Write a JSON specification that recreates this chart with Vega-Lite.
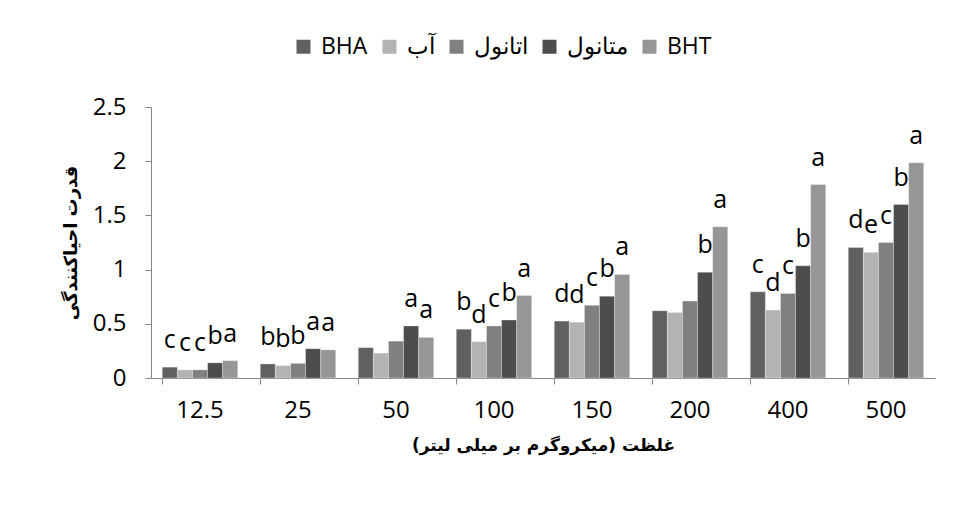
{
  "$schema": "https://vega.github.io/schema/vega-lite/v6.json",
  "width": 784,
  "height": 271,
  "autosize": {"type": "none"},
  "padding": {"left": 151, "top": 107, "right": 23, "bottom": 136},
  "background": "white",
  "config": {
    "view": {"stroke": null},
    "font": "Open Sans",
    "axis": {"grid": false, "domainColor": "#868686", "tickColor": "#868686", "labelColor": "#000000", "titleColor": "#000000"}
  },
  "data": {
    "values": [
      {"conc": "12.5", "series": "BHA", "value": 0.10, "letter": "c"},
      {"conc": "12.5", "series": "آب", "value": 0.075, "letter": "c"},
      {"conc": "12.5", "series": "اتانول", "value": 0.075, "letter": "c"},
      {"conc": "12.5", "series": "متانول", "value": 0.14, "letter": "b"},
      {"conc": "12.5", "series": "BHT", "value": 0.16, "letter": "a"},
      {"conc": "25", "series": "BHA", "value": 0.13, "letter": "b"},
      {"conc": "25", "series": "آب", "value": 0.115, "letter": "b"},
      {"conc": "25", "series": "اتانول", "value": 0.135, "letter": "b"},
      {"conc": "25", "series": "متانول", "value": 0.27, "letter": "a"},
      {"conc": "25", "series": "BHT", "value": 0.26, "letter": "a"},
      {"conc": "50", "series": "BHA", "value": 0.28, "letter": ""},
      {"conc": "50", "series": "آب", "value": 0.23, "letter": ""},
      {"conc": "50", "series": "اتانول", "value": 0.34, "letter": ""},
      {"conc": "50", "series": "متانول", "value": 0.48, "letter": "a"},
      {"conc": "50", "series": "BHT", "value": 0.375, "letter": "a"},
      {"conc": "100", "series": "BHA", "value": 0.45, "letter": "b"},
      {"conc": "100", "series": "آب", "value": 0.335, "letter": "d"},
      {"conc": "100", "series": "اتانول", "value": 0.48, "letter": "c"},
      {"conc": "100", "series": "متانول", "value": 0.535, "letter": "b"},
      {"conc": "100", "series": "BHT", "value": 0.76, "letter": "a"},
      {"conc": "150", "series": "BHA", "value": 0.525, "letter": "d"},
      {"conc": "150", "series": "آب", "value": 0.515, "letter": "d"},
      {"conc": "150", "series": "اتانول", "value": 0.67, "letter": "c"},
      {"conc": "150", "series": "متانول", "value": 0.755, "letter": "b"},
      {"conc": "150", "series": "BHT", "value": 0.955, "letter": "a"},
      {"conc": "200", "series": "BHA", "value": 0.62, "letter": ""},
      {"conc": "200", "series": "آب", "value": 0.605, "letter": ""},
      {"conc": "200", "series": "اتانول", "value": 0.71, "letter": ""},
      {"conc": "200", "series": "متانول", "value": 0.975, "letter": "b"},
      {"conc": "200", "series": "BHT", "value": 1.395, "letter": "a"},
      {"conc": "400", "series": "BHA", "value": 0.795, "letter": "c"},
      {"conc": "400", "series": "آب", "value": 0.627, "letter": "d"},
      {"conc": "400", "series": "اتانول", "value": 0.78, "letter": "c"},
      {"conc": "400", "series": "متانول", "value": 1.035, "letter": "b"},
      {"conc": "400", "series": "BHT", "value": 1.785, "letter": "a"},
      {"conc": "500", "series": "BHA", "value": 1.205, "letter": "d"},
      {"conc": "500", "series": "آب", "value": 1.16, "letter": "e"},
      {"conc": "500", "series": "اتانول", "value": 1.25, "letter": "c"},
      {"conc": "500", "series": "متانول", "value": 1.60, "letter": "b"},
      {"conc": "500", "series": "BHT", "value": 1.985, "letter": "a"}
    ]
  },
  "encoding": {
    "x": {
      "field": "conc", "type": "nominal",
      "sort": ["12.5", "25", "50", "100", "150", "200", "400", "500"],
      "scale": {"paddingInner": 0.23, "paddingOuter": 0.115},
      "axis": {
        "title": "غلظت (میکروگرم بر میلی لیتر)",
        "labelAngle": 0, "bandPosition": 0, "tickSize": 6,
        "labelPadding": 14, "labelFontSize": 24, "labelFont": "Open Sans",
        "titleFontSize": 17, "titleFontWeight": "bold", "titleFont": "DejaVu Sans", "titlePadding": 15
      }
    },
    "xOffset": {
      "field": "series", "type": "nominal",
      "sort": ["BHA", "آب", "اتانول", "متانول", "BHT"],
      "scale": {"paddingInner": 0, "paddingOuter": 0}
    },
    "y": {
      "field": "value", "type": "quantitative",
      "scale": {"domain": [0, 2.5], "nice": false},
      "axis": {
        "title": "قدرت احیاکنندگی",
        "values": [0, 0.5, 1, 1.5, 2, 2.5], "format": "~g",
        "tickSize": 6, "labelPadding": 19, "labelFontSize": 24,
        "titleFontSize": 18, "titleFontWeight": "bold", "titleFont": "DejaVu Sans", "titlePadding": 12
      }
    }
  },
  "layer": [
    {
      "mark": {"type": "bar", "stroke": "#ffffff", "strokeWidth": 0.5, "strokeOpacity": 0.6},
      "encoding": {
        "color": {
          "field": "series", "type": "nominal",
          "scale": {
            "domain": ["BHA", "آب", "اتانول", "متانول", "BHT"],
            "range": ["#606060", "#b3b3b3", "#808080", "#4d4d4d", "#969696"]
          },
          "legend": {
            "title": null, "orient": "none", "direction": "horizontal",
            "legendX": 141, "legendY": -72,
            "symbolType": "square", "symbolSize": 196, "symbolStrokeWidth": 0,
            "labelFontSize": 23, "labelFont": "Open Sans", "labelFontWeight": "normal",
            "labelOffset": 6, "columnPadding": 10, "labelColor": "#000000", "labelLimit": 300
          }
        }
      }
    },
    {
      "mark": {"type": "text", "baseline": "alphabetic", "dy": -19, "fontSize": 25, "color": "#000000", "font": "Open Sans"},
      "encoding": {
        "text": {"field": "letter"}
      }
    }
  ]
}
